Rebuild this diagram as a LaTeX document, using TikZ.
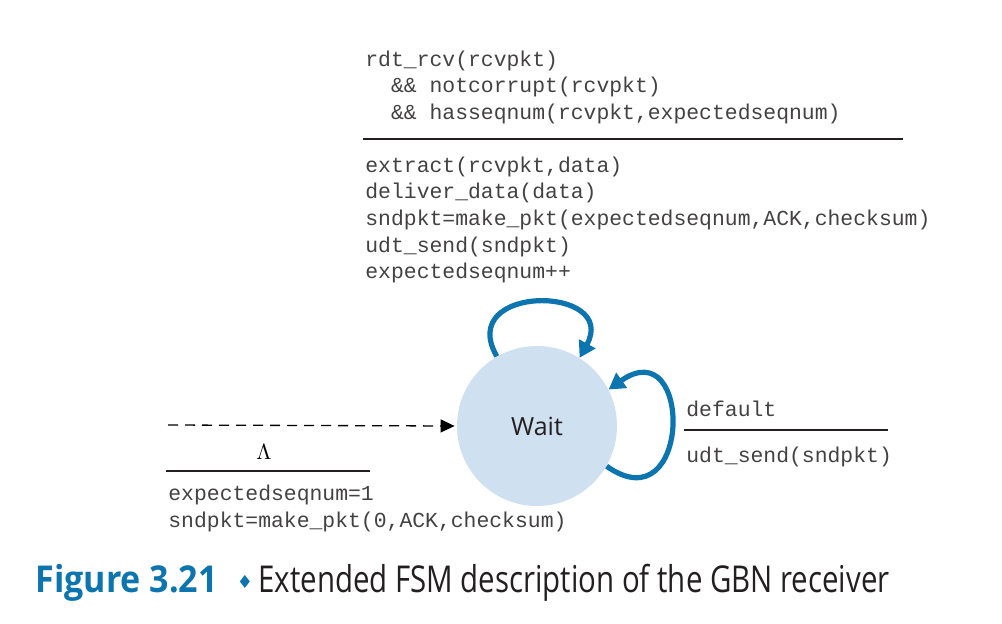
\documentclass[tikz,border=0pt]{standalone}
\usepackage{fontspec}
\newfontfamily\codefont{Liberation Mono}
\newfontfamily\labelfont{Open Sans}
\newfontfamily\symfont{DejaVu Sans}
\usetikzlibrary{positioning, calc, arrows.meta}

\definecolor{fsmblue}{HTML}{0C74AE}
\definecolor{statefill}{HTML}{CFE1F1}
\definecolor{inkgray}{HTML}{231F20}

\tikzset{
  code/.style={font=\codefont\fontsize{10.7}{13.35}\selectfont, inner sep=0pt, anchor=base west, text=inkgray!85},
  rulebar/.style={line width=1pt, inkgray},
  loopedge/.style={draw=fsmblue, line width=2.6pt, -{Triangle[length=8pt,width=9pt]}},
  state/.style={circle, fill=statefill, minimum size=80pt, inner sep=0pt, text=inkgray,
    font=\labelfont\fontsize{12.5}{14}\selectfont},
}

\begin{document}
\begin{tikzpicture}[x=0.5pt, y=-0.5pt]
  \useasboundingbox (0,0) rectangle (1002,623);

  \node[state] (wait) at (537,426) {Wait};

  % initial transition
  \coordinate (init) at (168,425);
  \draw[line width=0.65pt, dash pattern=on 5pt off 3.5pt, -{Triangle[length=7pt,width=6.5pt]}, shorten >=1pt]
    (init) -- (wait.west);
  \node[inner sep=0pt, anchor=base] (lambda) at (264,459) {\fontsize{11}{13}\selectfont$\Lambda$};
  \coordinate (init_rule_l) at (166,471);
  \coordinate (init_rule_r) at (370,471);
  \draw[rulebar] (init_rule_l) -- (init_rule_r);
  \node[code] (init_act1) at (168,500) {expectedseqnum=1};
  \node[code] (init_act2) at (168,527) {sndpkt=make\_pkt(0,ACK,checksum)};

  % self loop: expected packet
  \draw[loopedge] (wait.120) .. controls +(-42,-73) and +(40,-73) .. (wait.58);
  \foreach \txt [count=\i] in {{rdt\_rcv(rcvpkt)}, {\ \ \&\& notcorrupt(rcvpkt)},
      {\ \ \&\& hasseqnum(rcvpkt,expectedseqnum)}}
    \node[code] (guard\i) at (365,{66+26.7*(\i-1)}) {\txt};
  \coordinate (top_rule_l) at (363,139);
  \coordinate (top_rule_r) at (903,139);
  \draw[rulebar] (top_rule_l) -- (top_rule_r);
  \foreach \txt [count=\i] in {{extract(rcvpkt,data)}, {deliver\_data(data)},
      {sndpkt=make\_pkt(expectedseqnum,ACK,checksum)}, {udt\_send(sndpkt)}, {expectedseqnum++}}
    \node[code] (act\i) at (365,{172+26.7*(\i-1)}) {\txt};

  % self loop: default
  \draw[loopedge] (wait.-30) .. controls +(85,60) and +(85,-60) .. (wait.27);
  \node[code] (dflt_guard) at (686,416) {default};
  \coordinate (dflt_rule_l) at (684,430);
  \coordinate (dflt_rule_r) at (888,430);
  \draw[rulebar] (dflt_rule_l) -- (dflt_rule_r);
  \node[code] (dflt_act) at (686,462) {udt\_send(sndpkt)};

  % caption
  \node[anchor=base west, inner sep=0pt, text=fsmblue, font=\labelfont\bfseries\fontsize{18.5}{22}\selectfont]
    (fig) at (35,592) {\scalebox{0.92}[1]{Figure 3.21}};
  \node[anchor=base, inner sep=0pt, text=fsmblue, font=\symfont\fontsize{9}{11}\selectfont]
    (diamond) at (245,588) {♦};
  \node[anchor=base west, inner sep=0pt, text=inkgray, font=\labelfont\fontsize{18.5}{22}\selectfont]
    (caption) at (258,592) {\scalebox{0.795}[1]{Extended FSM description of the GBN receiver}};
\end{tikzpicture}
\end{document}
